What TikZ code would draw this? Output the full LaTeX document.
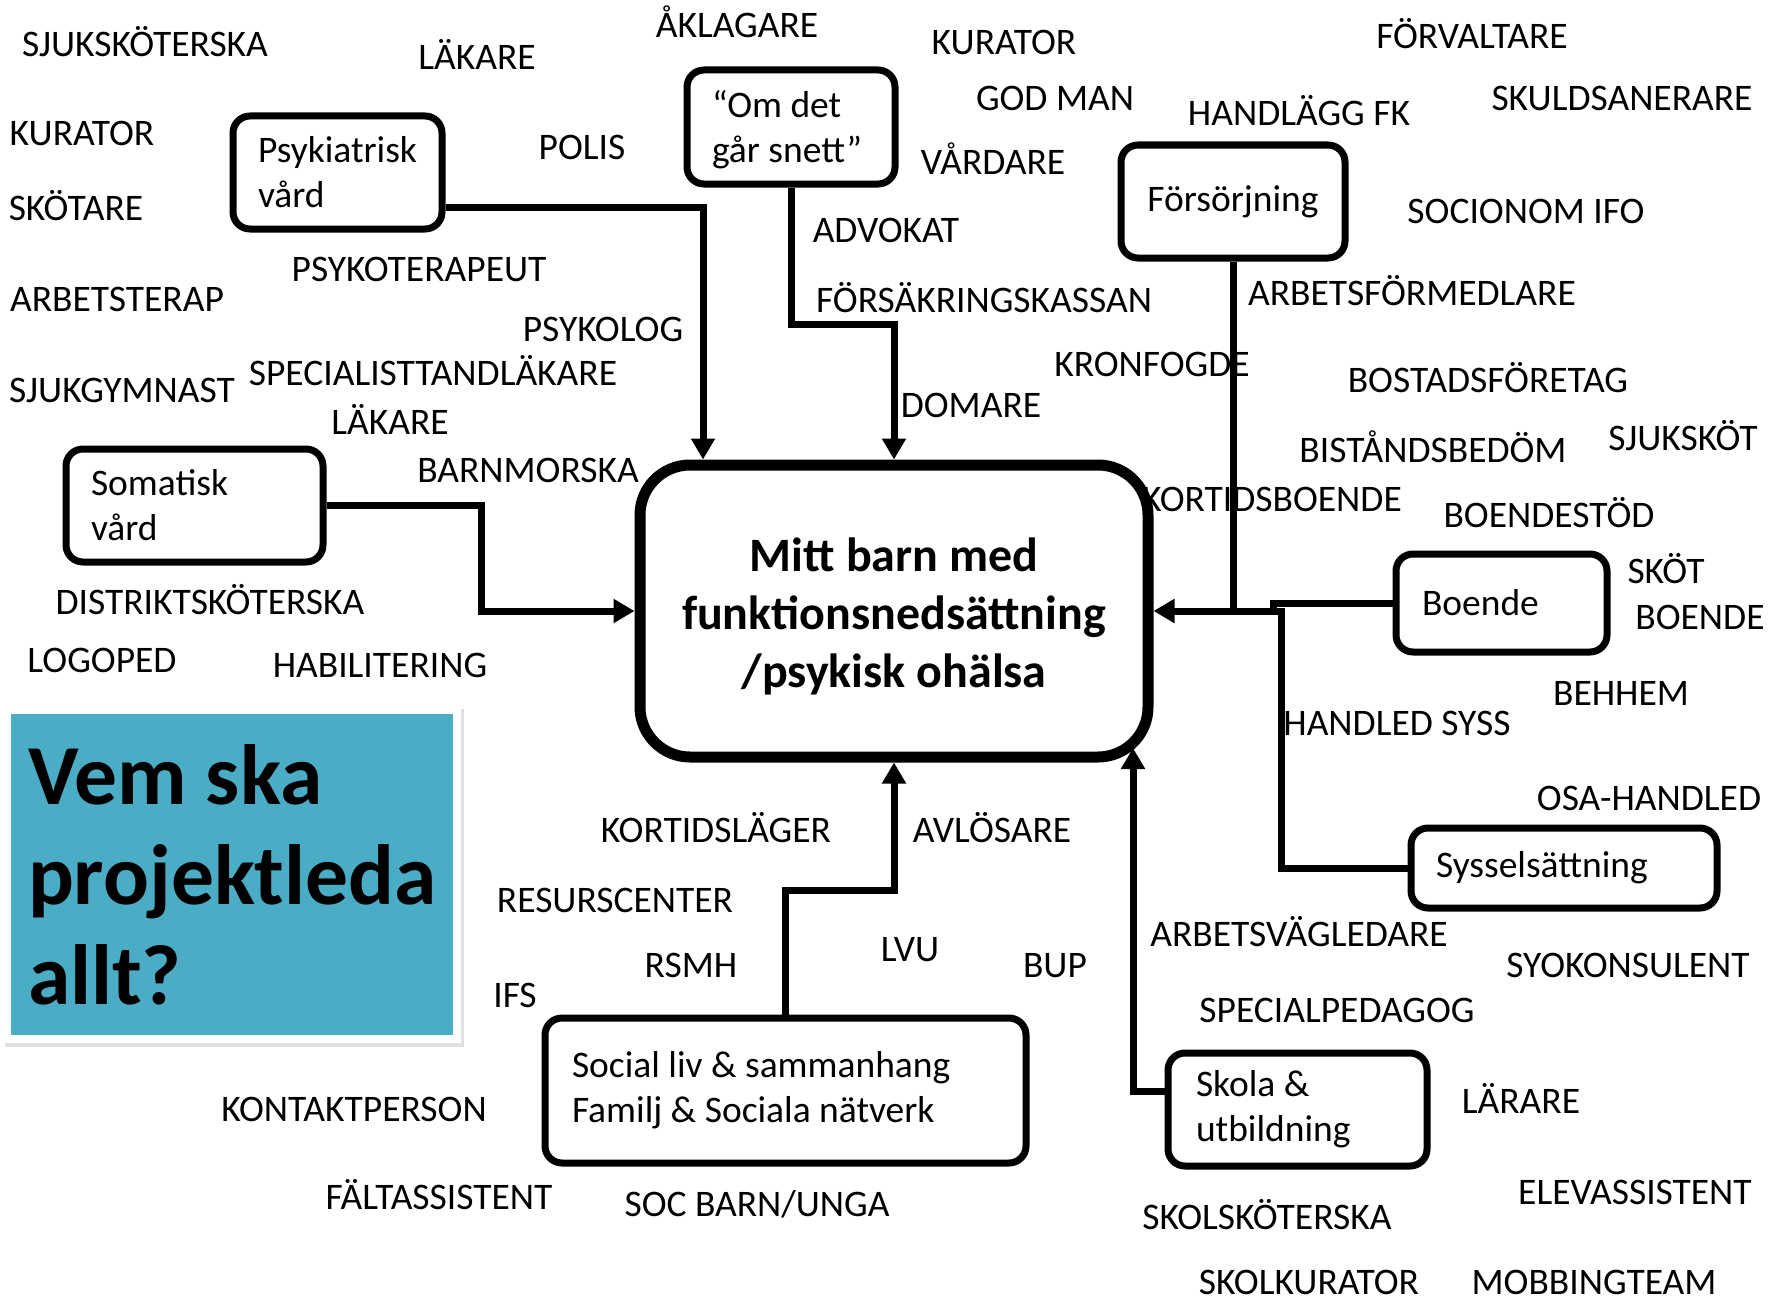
\documentclass[tikz,border=0pt]{standalone}
\usepackage{fontspec}
\setmainfont{Carlito}
\usetikzlibrary{arrows.meta}
\definecolor{slideblue}{HTML}{4BACC6}
\begin{document}
\begin{tikzpicture}[x=1pt,y=-1pt,
  font=\fontsize{37.5}{45}\selectfont,
  lbl/.style={inner sep=0pt, text height=0.63em, text depth=0pt, anchor=center, yshift=-8pt},
  box/.style={draw, line width=7pt, rounded corners=17pt, fill=white, align=flush left, inner ysep=0pt},
  conn/.style={line width=7pt},
  arr/.style={-{Triangle[length=21pt,width=23pt]}}
]
\useasboundingbox (0,0) rectangle (1777,1303);
\fill[white] (0,0) rectangle (1777,1303);

% labels
\node[lbl] (l1) at (145,45) {SJUKSKÖTERSKA};
\node[lbl] (l2) at (477,58) {LÄKARE};
\node[lbl] (l3) at (737,26) {ÅKLAGARE};
\node[lbl] (l4) at (1004,43) {KURATOR};
\node[lbl] (l5) at (1472,37) {FÖRVALTARE};
\node[lbl] (l6) at (82,134) {KURATOR};
\node[lbl] (l7) at (582,148) {POLIS};
\node[lbl] (l8) at (1055,99) {GOD MAN};
\node[lbl] (l9) at (1299,114) {HANDLÄGG FK};
\node[lbl] (l10) at (1622,99) {SKULDSANERARE};
\node[lbl] (l11) at (993,163) {VÅRDARE};
\node[lbl] (l12) at (76,209) {SKÖTARE};
\node[lbl] (l13) at (1526,212) {SOCIONOM IFO};
\node[lbl] (l14) at (886,231) {ADVOKAT};
\node[lbl] (l15) at (419,270) {PSYKOTERAPEUT};
\node[lbl] (l16) at (117,300) {ARBETSTERAP};
\node[lbl] (l17) at (984,301) {FÖRSÄKRINGSKASSAN};
\node[lbl] (l18) at (1412,294) {ARBETSFÖRMEDLARE};
\node[lbl] (l19) at (603,330) {PSYKOLOG};
\node[lbl] (l20) at (1152,365) {KRONFOGDE};
\node[lbl] (l21) at (122,391) {SJUKGYMNAST};
\node[lbl] (l22) at (433,374) {SPECIALISTTANDLÄKARE};
\node[lbl] (l23) at (1488,381) {BOSTADSFÖRETAG};
\node[lbl] (l24) at (390,423) {LÄKARE};
\node[lbl] (l25) at (971,406) {DOMARE};
\node[lbl] (l26) at (1433,451) {BISTÅNDSBEDÖM};
\node[lbl] (l27) at (1683,439) {SJUKSKÖT};
\node[lbl] (l28) at (528,471) {BARNMORSKA};
\node[lbl] (l29) at (1272,500) {KORTIDSBOENDE};
\node[lbl] (l30) at (1549,516) {BOENDESTÖD};
\node[lbl] (l31) at (1666,572) {SKÖT};
\node[lbl] (l32) at (1700,618) {BOENDE};
\node[lbl] (l33) at (210,603) {DISTRIKTSKÖTERSKA};
\node[lbl] (l34) at (102,661) {LOGOPED};
\node[lbl] (l35) at (380,666) {HABILITERING};
\node[lbl] (l36) at (1621,694) {BEHHEM};
\node[lbl] (l37) at (1397,724) {HANDLED SYSS};
\node[lbl] (l38) at (1649,799) {OSA-HANDLED};
\node[lbl] (l39) at (716,831) {KORTIDSLÄGER};
\node[lbl] (l40) at (992,831) {AVLÖSARE};
\node[lbl] (l41) at (615,901) {RESURSCENTER};
\node[lbl] (l42) at (1299,935) {ARBETSVÄGLEDARE};
\node[lbl] (l43) at (910,950) {LVU};
\node[lbl] (l44) at (1055,966) {BUP};
\node[lbl] (l45) at (691,966) {RSMH};
\node[lbl] (l46) at (1628,966) {SYOKONSULENT};
\node[lbl] (l47) at (515,996) {IFS};
\node[lbl] (l48) at (1337,1011) {SPECIALPEDAGOG};
\node[lbl] (l49) at (1521,1102) {LÄRARE};
\node[lbl] (l50) at (354,1110) {KONTAKTPERSON};
\node[lbl] (l51) at (1635,1193) {ELEVASSISTENT};
\node[lbl] (l52) at (439,1198) {FÄLTASSISTENT};
\node[lbl] (l53) at (757,1205) {SOC BARN/UNGA};
\node[lbl] (l54) at (1267,1218) {SKOLSKÖTERSKA};
\node[lbl] (l55) at (1309,1283) {SKOLKURATOR};
\node[lbl] (l56) at (1594,1283) {MOBBINGTEAM};

% title panel
\fill[black!12] (5,709) rectangle (464,1047);
\fill[white] (3,706) rectangle (461,1043);
\node[fill=slideblue, inner ysep=0pt, inner xsep=17pt, text width=408pt, minimum height=321pt, align=flush left,
  font=\bfseries\fontsize{85.5}{100}\selectfont] (title) at (232,874.5) {Vem ska\\projektleda\\allt?};

% boxes
\node[box, inner xsep=25pt, text width=159pt, minimum height=113pt] (psy) at (337.5,172.5) {Psykiatrisk\\vård};
\node[box, inner xsep=25pt, text width=158pt, minimum height=114pt] (om) at (791,127) {\rule{0pt}{33pt}“Om det\\går snett”};
\node[box, align=flush center, inner xsep=10pt, text width=204pt, minimum height=113pt] (fors) at (1233,201.5) {Försörjning};
\node[box, inner xsep=25pt, text width=207pt, minimum height=113pt] (som) at (194.5,505.5) {Somatisk\\vård};
\node[box, inner xsep=26pt, text width=159pt, minimum height=98pt] (boende) at (1501.5,603) {Boende};
\node[box, inner xsep=25pt, text width=256pt, minimum height=80pt] (syss) at (1564,868) {Sysselsättning};
\node[box, inner xsep=28pt, text width=203pt, minimum height=113pt] (skola) at (1297.5,1109.5) {Skola \&\\utbildning};
\node[box, inner xsep=27pt, text width=427pt, minimum height=145pt] (soc) at (785.5,1090.5) {Social liv \& sammanhang\\Familj \& Sociala nätverk};
\node[box, line width=11pt, rounded corners=50pt, align=flush center, inner xsep=10pt, text width=488pt, minimum height=292pt,
  font=\bfseries\fontsize{48}{58}\selectfont] (central) at (894,611) {\rule{0pt}{44pt}Mitt barn med\\funktionsnedsättning\\/psykisk ohälsa};

% connector corners
\coordinate (c1) at (703,207);
\coordinate (c2a) at (791,324);
\coordinate (c2b) at (894,324);
\coordinate (c3a) at (481,505.5);
\coordinate (c3b) at (481,611);
\coordinate (c4) at (1233,611);
\coordinate (c5a) at (1273,603);
\coordinate (c5b) at (1273,611);
\coordinate (c6) at (1281,868);
\coordinate (c7) at (1133,1091);
\coordinate (c7t) at (1133,748);
\coordinate (c8a) at (785.5,890);
\coordinate (c8b) at (894,890);

% connectors
\draw[conn, arr] (psy.east |- c1) -- (c1) -- (c1 |- central.north);
\draw[conn, arr] (om.south) -- (c2a) -- (c2b) -- (c2b |- central.north);
\draw[conn, arr] (som.east) -- (c3a) -- (c3b) -- (central.west);
\draw[conn] (fors.south) -- (c4);
\draw[conn] (boende.west) -- (c5a) -- (c5b);
\draw[conn, arr] (syss.west) -- (c6) -- (c6 |- c4) -- (central.east);
\draw[conn, arr] (skola.west |- c7) -- (c7) -- (c7t);
\draw[conn, arr] (soc.north) -- (c8a) -- (c8b) -- (central.south);
\end{tikzpicture}
\end{document}
